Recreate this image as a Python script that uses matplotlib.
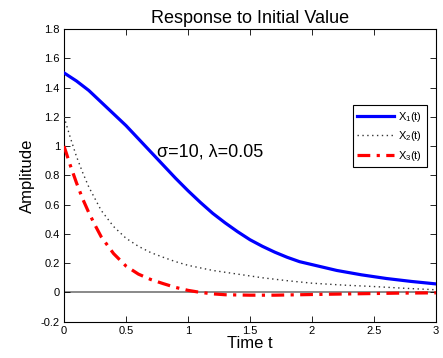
import matplotlib
matplotlib.use("Agg")
from matplotlib import pyplot as plt
from matplotlib.ticker import FormatStrFormatter, MultipleLocator

plt.rcParams["font.family"] = ["Liberation Sans", "DejaVu Sans"]
plt.rcParams["mathtext.fontset"] = "custom"
plt.rcParams["mathtext.rm"] = "Liberation Sans"

# values
t1 = [0, 0.1, 0.2, 0.3, 0.4, 0.5, 0.6, 0.7, 0.8, 0.9, 1.0, 1.1, 1.2, 1.3,
      1.4, 1.5, 1.6, 1.7, 1.8, 1.9, 2.0, 2.2, 2.4, 2.6, 2.8, 3.0]
x1 = [1.50, 1.445, 1.38, 1.30, 1.22, 1.14, 1.05, 0.96, 0.87, 0.78, 0.695,
      0.615, 0.54, 0.475, 0.415, 0.36, 0.315, 0.275, 0.24, 0.21, 0.19, 0.15,
      0.12, 0.095, 0.075, 0.058]

t2 = [0, 0.05, 0.1, 0.15, 0.2, 0.25, 0.3, 0.4, 0.5, 0.6, 0.7, 0.8, 0.9,
      1.0, 1.2, 1.4, 1.6, 1.8, 2.0, 2.25, 2.5, 2.75, 3.0]
x2 = [1.20, 1.06, 0.93, 0.82, 0.72, 0.64, 0.56, 0.45, 0.37, 0.315, 0.272,
      0.24, 0.21, 0.185, 0.15, 0.125, 0.10, 0.08, 0.063, 0.05, 0.04, 0.028,
      0.018]

t3 = [0, 0.05, 0.1, 0.15, 0.2, 0.25, 0.3, 0.4, 0.5, 0.6, 0.7, 0.8, 0.9,
      1.0, 1.1, 1.2, 1.3, 1.5, 1.7, 1.9, 2.1, 2.4, 2.7, 3.0]
x3 = [1.0, 0.87, 0.75, 0.64, 0.545, 0.46, 0.38, 0.265, 0.18, 0.125, 0.088,
      0.06, 0.034, 0.014, 0.0, -0.01, -0.016, -0.019, -0.019, -0.016,
      -0.013, -0.009, -0.005, -0.003]

labels = ["X$_1$(t)", "X$_2$(t)", "X$_3$(t)"]

fig = plt.figure(figsize=(4.43, 3.58), dpi=100)
ax = fig.add_axes([0.1445, 0.1015, 0.8395, 0.8175])

ax.axhline(0, color="#808080", lw=1.3, zorder=1)
ax.plot(t1, x1, color="#0000ff", lw=2.3, label=labels[0], zorder=3,
        solid_joinstyle="round")
ax.plot(t2, x2, color="#333333", lw=1.0, ls=(0, (1, 2.5)), label=labels[1],
        zorder=3)
ax.plot(t3, x3, color="#ff0000", lw=2.3, ls=(0, (4, 2, 1, 2)), label=labels[2],
        zorder=3, dash_joinstyle="round")

ax.set_xlim(0, 3)
ax.set_ylim(-0.2, 1.8)
ax.xaxis.set_major_locator(MultipleLocator(0.5))
ax.yaxis.set_major_locator(MultipleLocator(0.2))
ax.xaxis.set_major_formatter(FormatStrFormatter("%g"))
ax.yaxis.set_major_formatter(FormatStrFormatter("%g"))
ax.tick_params(direction="in", top=True, right=True, labelsize=8, length=4,
               width=0.6, pad=3)
for s in ax.spines.values():
    s.set_linewidth(0.8)

ax.set_title("Response to Initial Value", fontsize=13, pad=4)
ax.set_xlabel("Time t", fontsize=12, labelpad=0)
ax.set_ylabel("Amplitude", fontsize=12, labelpad=4)
ax.text(0.75, 0.96, "σ=10, λ=0.05", fontsize=13, va="center", ha="left")

leg = ax.legend(loc="upper right", bbox_to_anchor=(0.975, 0.74), fontsize=8,
                fancybox=False, edgecolor="black", framealpha=1,
                handlelength=3.3, borderpad=0.4, labelspacing=0.5,
                handletextpad=0.4, borderaxespad=0)
leg.get_frame().set_linewidth(0.8)

fig.savefig("out.png", dpi=100, facecolor="white")
